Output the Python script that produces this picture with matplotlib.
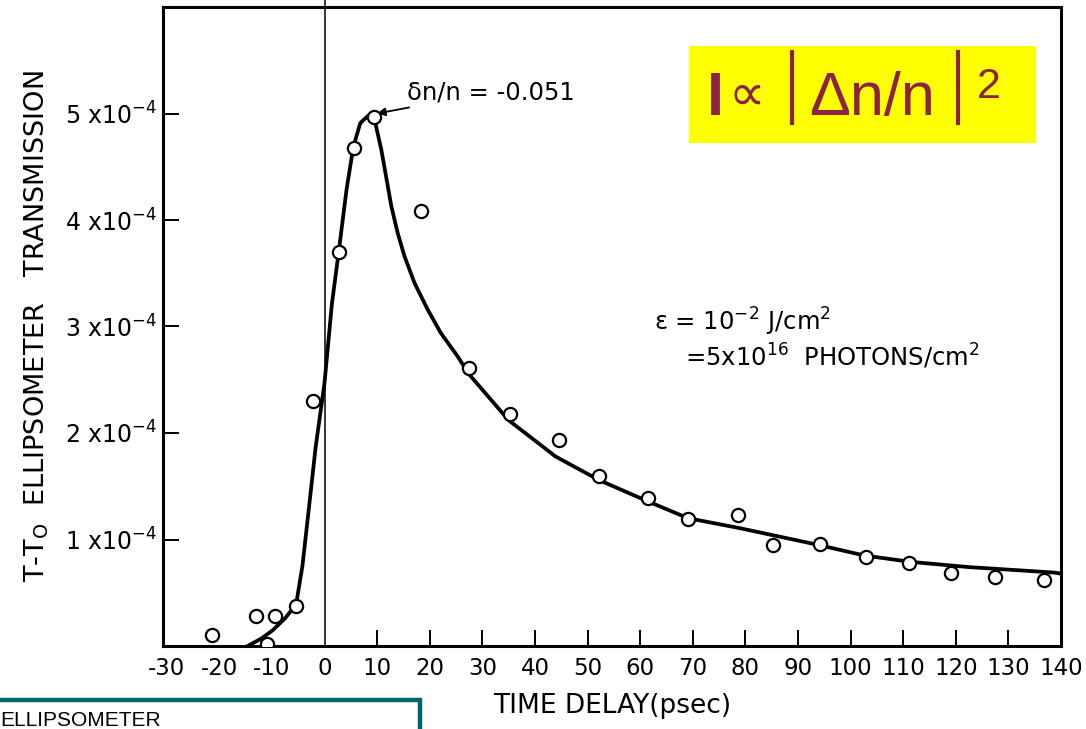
import matplotlib
matplotlib.use('Agg')
import matplotlib.pyplot as plt
from matplotlib.patches import Rectangle
from matplotlib.lines import Line2D

plt.rcParams['font.family'] = ['DejaVu Sans']
plt.rcParams['axes.unicode_minus'] = False

# Messpunkte (Zeit in psec, Signal in 1e-4)
delay_pts = [-21.4, -13.1, -9.4, -11.0, -5.4, -2.1, 2.7, 5.6, 9.4, 18.4, 27.5, 35.2,
             44.5, 52.2, 61.4, 69.1, 78.6, 85.2, 94.1, 102.9, 111.1, 119.0, 127.5, 136.7]
signal_pts = [0.10, 0.28, 0.28, 0.02, 0.38, 2.30, 3.70, 4.68, 4.97, 4.08, 2.61, 2.18,
              1.93, 1.60, 1.39, 1.19, 1.23, 0.95, 0.96, 0.84, 0.78, 0.69, 0.65, 0.62]

# Fitkurve
delay_fit = [-14.6, -12.0, -9.8, -7.5, -5.4, -4.2, -3.2, -1.7, 0.0, 1.4, 2.7, 4.2, 5.5,
             6.8, 8.3, 9.2, 9.8, 10.8, 11.7, 12.7, 13.9, 15.2, 17.1, 19.6, 22.1, 25.3,
             27.5, 35.0, 43.9, 52.1, 60.9, 69.1, 78.6, 93.8, 102.6, 111.4, 122.7, 138.6, 140.0]
signal_fit = [0.0, 0.07, 0.15, 0.26, 0.39, 0.75, 1.19, 1.86, 2.47, 3.21, 3.70, 4.29, 4.69,
              4.91, 4.98, 4.99, 4.88, 4.66, 4.41, 4.13, 3.88, 3.66, 3.41, 3.16, 2.94, 2.72,
              2.55, 2.12, 1.78, 1.56, 1.37, 1.20, 1.11, 0.95, 0.85, 0.79, 0.74, 0.69, 0.68]

x_ticks = [-30, -20, -10, 0, 10, 20, 30, 40, 50, 60, 70, 80, 90, 100, 110, 120, 130, 140]
y_ticks = [1, 2, 3, 4, 5]

W, H = 1086, 729
fig = plt.figure(figsize=(W / 100, H / 100), dpi=100)
ax = fig.add_axes([163 / W, 1 - 646 / H, (1061 - 163) / W, (646 - 7) / H])


def fpx(x, y):
    return (x / W, 1 - y / H)


scale = 1e-4
ax.plot(delay_fit, [v * scale for v in signal_fit], color='black', lw=2.7, zorder=3)
ax.plot(delay_pts, [v * scale for v in signal_pts], 'o', ms=9.5, mfc='white',
        mec='black', mew=1.6, zorder=4)
ax.axvline(0, ymin=0, ymax=1.012, color='black', lw=1.1, clip_on=False, zorder=2)

ax.set_xlim(-30.7, 140)
ax.set_ylim(0, 6e-4)

ax.set_xticks(x_ticks)
ax.set_xticklabels([str(t) for t in x_ticks], fontsize=16.5)
ax.set_yticks([t * scale for t in y_ticks])
ax.set_yticklabels([f'{t} x10$^{{-4}}$' for t in y_ticks], fontsize=17)
ax.tick_params(axis='both', direction='in', length=11.5, width=1.4)
ax.tick_params(axis='x', pad=8)
ax.tick_params(axis='y', pad=4)
for tick in ax.xaxis.get_major_ticks():
    if tick.get_loc() <= 0:
        tick.tick1line.set_visible(False)

for sp in ax.spines.values():
    sp.set_linewidth(2.2)

ax.set_xlabel('TIME DELAY(psec)', fontsize=19, labelpad=9)
ax.set_ylabel(r'T-T$_{\mathrm{O}}$  ELLIPSOMETER   TRANSMISSION', fontsize=19.5, labelpad=10)

# Annotation am Maximum
ax.annotate('δn/n = -0.051', xy=(10.0, 5.0e-4), xytext=(15.6, 5.2e-4),
            fontsize=17.5, ha='left', va='center',
            arrowprops=dict(arrowstyle='-|>', color='black', lw=1.3,
                            mutation_scale=12, shrinkA=2, shrinkB=0))

ax.text(62.6, 3.04e-4, 'ε = 10$^{-2}$ J/cm$^2$', fontsize=17.5, ha='left', va='center')
ax.text(68.5, 2.72e-4, '=5x10$^{16}$  PHOTONS/cm$^2$', fontsize=17.5, ha='left', va='center')

# gelber Kasten
color_txt = '#8B2346'
x0, y0 = fpx(689, 143)
x1, y1 = fpx(1036, 46)
fig.patches.append(Rectangle((x0, y0), x1 - x0, y1 - y0, transform=fig.transFigure,
                             facecolor='#FFFF00', edgecolor='none', zorder=5))
fig.text(*fpx(707, 115), 'I', fontsize=44, fontweight='bold', color=color_txt,
         family=['Liberation Sans', 'DejaVu Sans'], va='baseline', zorder=6)
fig.text(*fpx(729, 110), '∝', fontsize=37, color=color_txt,
         family=['DejaVu Sans'], va='baseline', zorder=6)
fig.text(*fpx(809, 115), 'Δn/n', fontsize=44, color=color_txt,
         family=['Liberation Sans', 'DejaVu Sans'], va='baseline', zorder=6)
fig.text(*fpx(977, 98), '2', fontsize=31, color=color_txt,
         family=['Liberation Sans'], va='baseline', zorder=6)
for bx in (792, 958):
    fig.lines.append(Line2D([bx / W, bx / W], [1 - 52 / H, 1 - 123 / H],
                            transform=fig.transFigure, color=color_txt, lw=3, zorder=6))

# Kasten unten links
bx0, by0 = fpx(-10, 760)
bx1, by1 = fpx(420, 700)
fig.patches.append(Rectangle((bx0, by0), bx1 - bx0, by1 - by0, transform=fig.transFigure,
                             facecolor='none', edgecolor='#006666', lw=3.2))
fig.text(*fpx(0, 711), 'ELLIPSOMETER', fontsize=15, family=['Liberation Sans'],
         va='top', ha='left')

fig.savefig('out.png', dpi=100)
